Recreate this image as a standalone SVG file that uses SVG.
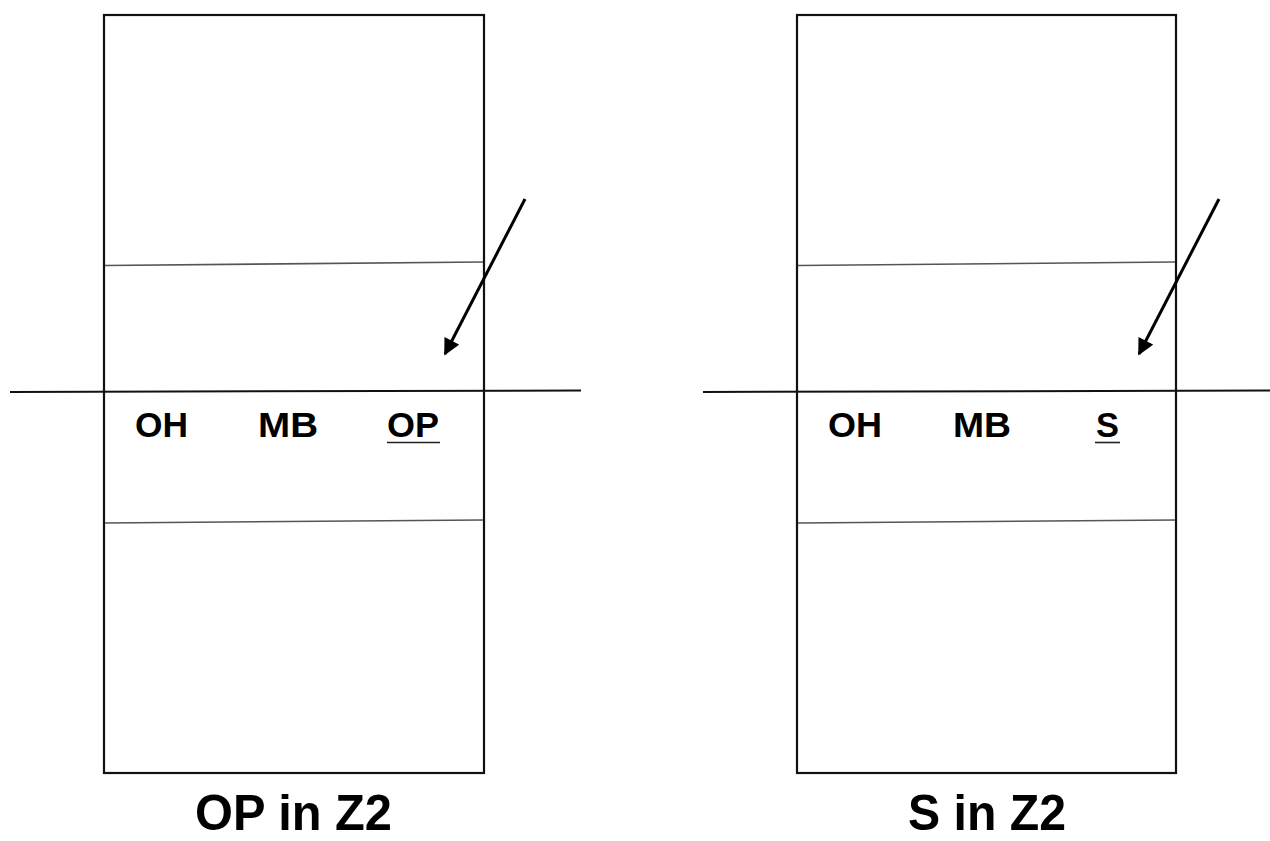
<svg xmlns="http://www.w3.org/2000/svg" width="1270" height="841" viewBox="0 0 1270 841">
<style>
.court{fill:#fff;stroke:#111;stroke-width:2.2}
.att{stroke:#555;stroke-width:1.6;fill:none}
.net{stroke:#111;stroke-width:2;fill:none}
.arr{stroke:#000;stroke-width:3;fill:none}
.lbl{font-family:"Liberation Sans",Arial,sans-serif;font-weight:bold;font-size:35px;fill:#000}
.ttl{font-family:"Liberation Sans",Arial,sans-serif;font-weight:bold;font-size:50px;fill:#000;text-anchor:middle}
.ul{stroke:#222;stroke-width:1.6}
</style>
<defs>
<marker id="ah" viewBox="0 0 10 10" refX="9" refY="5" markerWidth="6" markerHeight="5.5" orient="auto" markerUnits="strokeWidth">
<path d="M0,0 L10,5 L0,10 z" fill="#000"/>
</marker>
</defs>
<g id="court-left">
<rect class="court" x="104" y="15" width="380" height="758"/>
<line class="att" x1="105" y1="265.5" x2="483" y2="262"/>
<line class="att" x1="105" y1="523" x2="483" y2="520"/>
<line class="net" x1="10" y1="392" x2="581" y2="390.5"/>
<text class="lbl" x="135" y="437" textLength="53" lengthAdjust="spacingAndGlyphs">OH</text>
<text class="lbl" x="258" y="437" textLength="60" lengthAdjust="spacingAndGlyphs">MB</text>
<text class="lbl" x="387" y="437" textLength="52" lengthAdjust="spacingAndGlyphs">OP</text>
<line class="ul" x1="387" y1="442.5" x2="440" y2="442.5"/>
<text class="ttl" x="293.5" y="830" textLength="197" lengthAdjust="spacingAndGlyphs">OP in Z2</text>
</g>
<g id="court-right">
<rect class="court" x="797" y="15" width="379" height="758"/>
<line class="att" x1="798" y1="265.5" x2="1175" y2="262"/>
<line class="att" x1="798" y1="523" x2="1175" y2="520"/>
<line class="net" x1="703" y1="392" x2="1270" y2="390.5"/>
<text class="lbl" x="828" y="437" textLength="54" lengthAdjust="spacingAndGlyphs">OH</text>
<text class="lbl" x="953" y="437" textLength="58" lengthAdjust="spacingAndGlyphs">MB</text>
<text class="lbl" x="1096" y="437" textLength="23" lengthAdjust="spacingAndGlyphs">S</text>
<line class="ul" x1="1095" y1="442.5" x2="1120" y2="442.5"/>
<text class="ttl" x="987" y="830" textLength="158" lengthAdjust="spacingAndGlyphs">S in Z2</text>
</g>
<g id="connectors">
<line class="arr" x1="525" y1="199" x2="445" y2="354" marker-end="url(#ah)"/>
<line class="arr" x1="1219" y1="199" x2="1139" y2="354" marker-end="url(#ah)"/>
</g>
</svg>
